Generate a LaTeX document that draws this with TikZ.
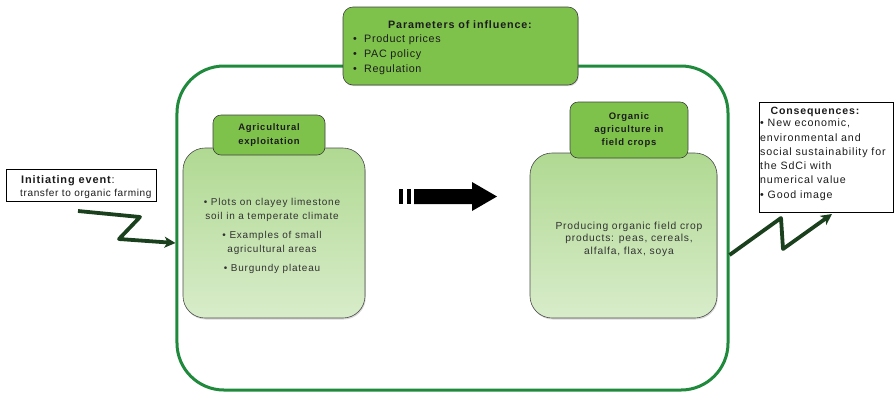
\documentclass[tikz,border=0pt]{standalone}
\usepackage{fontspec}
\setmainfont{Liberation Sans}
\newfontfamily\widefont[LetterSpace=8]{Liberation Sans}
\newfontfamily\midfont[LetterSpace=6]{Liberation Sans}
\usetikzlibrary{arrows.meta,shadows}
\definecolor{frameGreen}{RGB}{32,138,60}
\definecolor{headGreen}{RGB}{126,194,76}
\definecolor{bodyTop}{RGB}{176,217,146}
\definecolor{bodyBot}{RGB}{216,236,202}
\definecolor{zigGreen}{RGB}{26,64,30}
\definecolor{ink}{RGB}{28,28,28}
\definecolor{soft}{RGB}{50,50,50}

\begin{document}
\begin{tikzpicture}[x=1bp,y=-1bp,
  frame/.style={draw=frameGreen, line width=3bp, rounded corners=47bp,
    minimum width=551bp, minimum height=324bp, inner sep=0pt},
  headbox/.style={draw=black!75, line width=0.6bp, fill=headGreen,
    rounded corners=8bp, align=center, text=ink, inner sep=0pt,
    font=\widefont\bfseries\fontsize{9.5}{13.5}\selectfont},
  bodybox/.style={draw=black!70, line width=0.6bp, top color=bodyTop,
    bottom color=bodyBot, rounded corners=22bp, inner sep=0pt,
    drop shadow={shadow xshift=0.8bp, shadow yshift=-1.5bp, opacity=0.3}},
  notebox/.style={draw=black, line width=0.8bp, fill=white, inner sep=0pt},
  bodytext/.style={align=center, text=soft, font=\widefont\fontsize{10}{14}\selectfont},
  zig/.style={draw=zigGreen, line width=3.8bp, line join=round,
    -{Stealth[length=11bp,width=11bp,inset=3bp]}}
]
\useasboundingbox (0,0) rectangle (894,392);

% outer frame
\node[frame] (outer) at (452.5,228) {};

% influence parameters
\node[headbox, rounded corners=10bp, minimum width=235bp, minimum height=78bp,
  drop shadow={shadow xshift=0.8bp, shadow yshift=-1.2bp, opacity=0.3}]
  (params) at (460.5,46) {};
\node[font=\widefont\bfseries\fontsize{10.8}{15}\selectfont, text=ink] (ptitle) at (460,25)
  {Parameters of influence:};
\node[anchor=west, align=left, text=ink, inner sep=0pt,
  font=\midfont\fontsize{10.8}{15.2}\selectfont] (plist) at (353,55)
  {\makebox[11bp][l]{•}Product prices\\
   \makebox[11bp][l]{•}PAC policy\\
   \makebox[11bp][l]{•}Regulation};

% farm block
\node[bodybox, minimum width=182bp, minimum height=170bp] (farm) at (274,233) {};
\node[headbox, minimum width=112bp, minimum height=40bp] (farmhead) at (269,135)
  {Agricultural\\exploitation};
\node[bodytext] (farmtext) at (272,236)
  {• Plots on clayey limestone\\soil in a temperate climate\\[5bp]
   • Examples of small\\agricultural areas\\[5bp]
   • Burgundy plateau};

% organic block
\node[bodybox, minimum width=187bp, minimum height=165bp] (org) at (623.5,235.5) {};
\node[headbox, minimum width=118bp, minimum height=56bp] (orghead) at (629,130)
  {Organic\\agriculture in\\field crops};
\node[bodytext, font=\widefont\fontsize{10.3}{12.5}\selectfont] (orgtext) at (629,239)
  {Producing organic field crop\\products: peas, cereals,\\alfalfa, flax, soya};

% transition arrow
\fill[black] (399,189) rectangle (403,204);
\fill[black] (407,189) rectangle (411,204);
\fill[black] (414,189) -- (472,189) -- (472,182) -- (497,196.5) -- (472,211)
  -- (472,204) -- (414,204) -- cycle;

% initiating event
\node[notebox, minimum width=150bp, minimum height=32bp] (init) at (81,185) {};
\node[anchor=base west, inner sep=0pt, text=ink,
  font=\widefont\fontsize{11}{13}\selectfont] (inittitle) at (21,183)
  {\textbf{Initiating event}:};
\node[anchor=base west, inner sep=0pt, text=ink,
  font=\midfont\fontsize{10.1}{13}\selectfont] (initsub) at (20,196.5)
  {transfer to organic farming};

% consequences
\node[notebox, minimum width=134bp, minimum height=110bp] (cons) at (826,157) {};
\node[font=\widefont\bfseries\fontsize{10.6}{14}\selectfont, text=ink] (constitle) at (815,112)
  {Consequences:};
\node[anchor=north west, align=left, inner sep=0pt, text=ink,
  font=\widefont\fontsize{10.7}{14.3}\selectfont] (constext) at (760,119)
  {• New economic,\\environmental and\\social sustainability for\\the SdCi with\\
   numerical value\\• Good image};

% zig-zag links
\coordinate (zstart) at (78,211);
\draw[zig] (zstart) -- (140,217) -- (119,239) -- (outer.west |- 0,243);
\coordinate (zend) at (832,214);
\draw[zig] (outer.east |- 0,255) -- (781,218) -- (783,249) -- (zend);
\end{tikzpicture}
\end{document}
